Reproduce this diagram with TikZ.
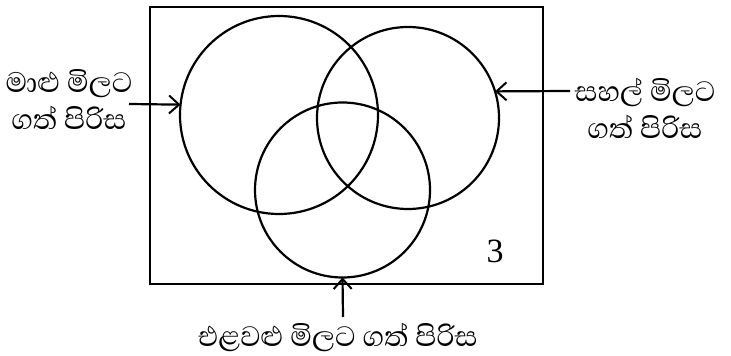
\documentclass[tikz,border=0pt]{standalone}
\usepackage{fontspec}
\setmainfont{Liberation Serif}
\newfontfamily\sinhala[Script=Sinhala]{Abhaya Libre}
\usetikzlibrary{arrows.meta}
\begin{document}
\begin{tikzpicture}[x=0.5pt,y=-0.5pt,
  set/.style={draw,circle,line width=1.1pt,inner sep=0pt,outer sep=0pt},
  link/.style={-{Straight Barb[length=5pt,width=9pt,line width=1pt]},line width=1.1pt},
  lbl/.style={align=center,font=\sinhala\fontsize{18}{18.5}\selectfont,inner sep=0pt}
]
\useasboundingbox (0,0) rectangle (731,356);
\draw[line width=1.2pt] (150,7) rectangle (543,284);
% the three sets
\node[set,minimum size=99pt] (fish) at (279,115) {};
\node[set,minimum size=91pt] (rice) at (408,118) {};
\node[set,minimum size=87.5pt] (veg) at (342.5,190) {};
\node[font=\fontsize{17}{20}\selectfont] (rest) at (495,251) {3};
% labels
\node[lbl] (fishlbl) at (69,100) {මාළු මිලට\\ගත් පිරිස};
\node[lbl] (ricelbl) at (645,108) {සහල් මිලට\\ගත් පිරිස};
\node[lbl] (veglbl) at (338,337) {එළවළු මිලට ගත් පිරිස};
\coordinate (fishin) at (129,104);
\coordinate (ricein) at (570,91);
\coordinate (vegin) at (343,317);
\draw[link] (fishin)--(fish.174);
\draw[link] (ricein)--(rice.17);
\draw[link] (vegin)--(veg.south);
\end{tikzpicture}
\end{document}
